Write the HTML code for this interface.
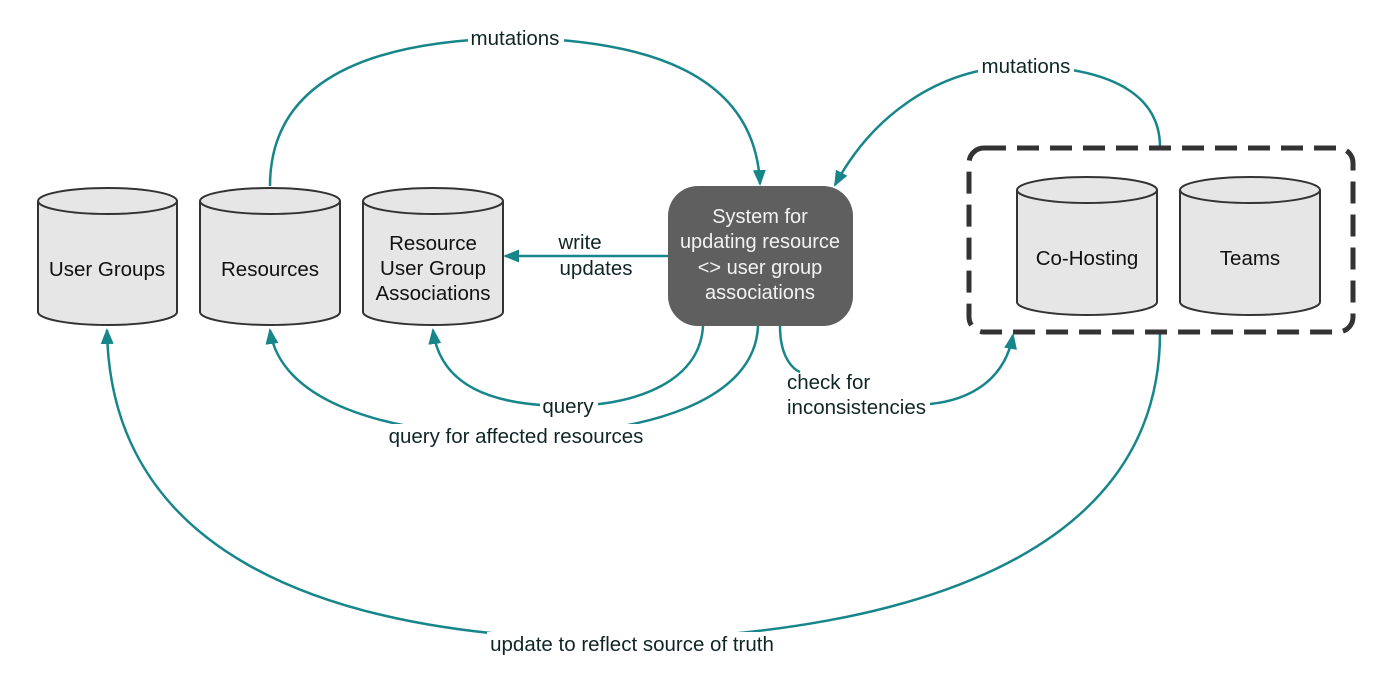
<!DOCTYPE html>
<html><head><meta charset="utf-8"><style>
html,body{margin:0;padding:0;background:#fff;}
svg{display:block;}
text{font-family:"Liberation Sans",sans-serif;}
</style></head><body>
<svg width="1400" height="698" viewBox="0 0 1400 698" xmlns="http://www.w3.org/2000/svg">
<defs>
<marker id="b" markerWidth="16" markerHeight="16" refX="14" refY="8" orient="auto" markerUnits="userSpaceOnUse" viewBox="0 0 16 16">
<path d="M0,1.5 L16,8 L0,14.5 z" fill="#17868a"/></marker>
</defs>
<g fill="none" stroke="#17868a" stroke-width="2.5">
<path d="M270 186 C270 70 390 40 515 38 C640 40 755 70 760 184" marker-end="url(#b)"/>
<path d="M1160 147 C1160 100 1120 68 1025 66 C935 66 870 120 835 185" marker-end="url(#b)"/>
<path d="M668 256 L505 256" marker-end="url(#b)"/>
<path d="M703 326 C700 380 640 405 568 406 C490 406 440 385 433 330" marker-end="url(#b)"/>
<path d="M758 326 C755 400 650 434 516 436 C380 434 280 400 270 330" marker-end="url(#b)"/>
<path d="M780 326 C780 360 795 370 800 372"/>
<path d="M930 404 C970 400 1005 380 1013 335" marker-end="url(#b)"/>
<path d="M1160 333 C1160 560 900 632 632 640 C300 640 110 540 107 330" marker-end="url(#b)"/>
</g>
<g fill="#fff">
<rect x="468" y="26" width="96" height="24"/>
<rect x="978" y="54" width="96" height="24"/>
<rect x="540" y="394" width="58" height="24"/>
<rect x="384" y="424" width="264" height="24"/>
<rect x="487" y="632" width="292" height="24"/>
</g>
<g font-size="20.5" fill="#102626" text-anchor="middle">
<text x="515" y="45">mutations</text>
<text x="1026" y="73">mutations</text>
<text x="580" y="249">write</text>
<text x="596" y="275">updates</text>
<text x="568" y="413">query</text>
<text x="516" y="443">query for affected resources</text>
<text x="632" y="651">update to reflect source of truth</text>
<text x="787" y="389" text-anchor="start">check for</text>
<text x="787" y="414" text-anchor="start">inconsistencies</text>
</g>
<rect x="969" y="148" width="384" height="184" rx="15" fill="none" stroke="#333" stroke-width="5" stroke-dasharray="22 11"/>
<g stroke="#333" stroke-width="2" fill="#e6e6e6">
<path d="M38 201 L38 312 A69.5 13 0 0 0 177 312 L177 201"/><ellipse cx="107.5" cy="201" rx="69.5" ry="13"/>
<path d="M200 201 L200 312 A70 13 0 0 0 340 312 L340 201"/><ellipse cx="270" cy="201" rx="70" ry="13"/>
<path d="M363 201 L363 312 A70 13 0 0 0 503 312 L503 201"/><ellipse cx="433" cy="201" rx="70" ry="13"/>
<path d="M1017 190 L1017 302 A70 13 0 0 0 1157 302 L1157 190"/><ellipse cx="1087" cy="190" rx="70" ry="13"/>
<path d="M1180 190 L1180 302 A70 13 0 0 0 1320 302 L1320 190"/><ellipse cx="1250" cy="190" rx="70" ry="13"/>
</g>
<g font-size="20.5" fill="#111" text-anchor="middle">
<text x="107" y="276">User Groups</text>
<text x="270" y="276">Resources</text>
<text x="433" y="250">Resource</text>
<text x="433" y="275">User Group</text>
<text x="433" y="300">Associations</text>
<text x="1087" y="265">Co-Hosting</text>
<text x="1250" y="265">Teams</text>
</g>
<rect x="668" y="186" width="185" height="140" rx="30" fill="#5f5f5f"/>
<g font-size="20" fill="#f2f2f2" text-anchor="middle">
<text x="760" y="223">System for</text>
<text x="760" y="248">updating resource</text>
<text x="760" y="274">&lt;&gt; user group</text>
<text x="760" y="299">associations</text>
</g>
</svg>
</body></html>
